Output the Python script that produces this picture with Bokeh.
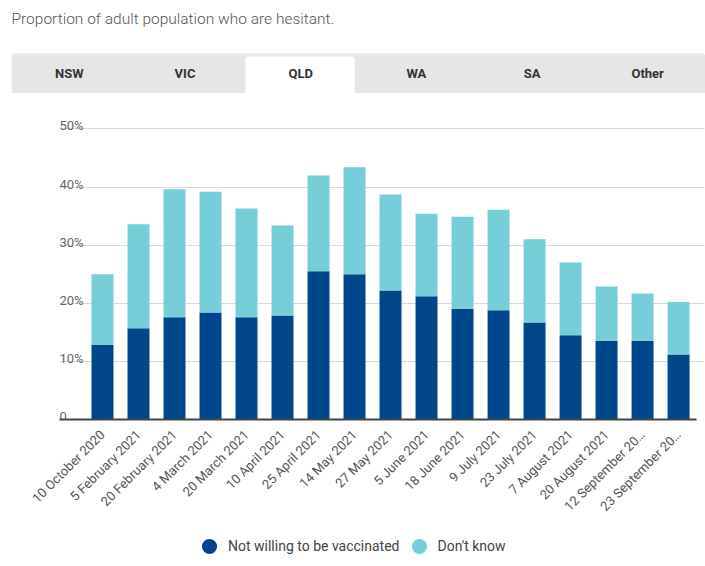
import math
from bokeh.plotting import figure
from bokeh.models import ColumnDataSource, Range1d, FixedTicker, Legend, LegendItem, Grid, Quad
from bokeh.embed import file_html
from bokeh.resources import INLINE
from bokeh.core.properties import value

# ---------------- data ----------------
TITLE = "Proportion of adult population who are hesitant."
TABS = ["NSW", "VIC", "QLD", "WA", "SA", "Other"]
ACTIVE_TAB = "QLD"

DATES = [
    "10 October 2020", "5 February 2021", "20 February 2021", "4 March 2021",
    "20 March 2021", "10 April 2021", "25 April 2021", "14 May 2021",
    "27 May 2021", "5 June 2021", "18 June 2021", "9 July 2021",
    "23 July 2021", "7 August 2021", "20 August 2021", "12 September 2021",
    "23 September 2021",
]
NOT_WILLING = [12.8, 15.7, 17.6, 18.4, 17.6, 17.9, 25.5, 25.0, 22.2, 21.2,
               19.0, 18.8, 16.7, 14.5, 13.5, 13.5, 11.2]
DONT_KNOW = [12.2, 17.9, 22.0, 20.8, 18.7, 15.5, 16.5, 18.4, 16.5, 14.2,
             15.9, 17.3, 14.3, 12.5, 9.4, 8.2, 9.0]
SERIES = ["Not willing to be vaccinated", "Don't know"]
COLORS = ["#00468B", "#76CED8"]
Y_TICKS = [0, 10, 20, 30, 40, 50]
Y_TICK_LABELS = ["0", "10%", "20%", "30%", "40%", "50%"]

FONT = "Roboto"
W = 705


def short(label, n=16):
    return label if len(label) <= n else label[:n - 1] + "\u2026"


HAS_RADIUS = "border_radius" in Quad.properties()


def radius(r):
    return {"border_radius": (r, r, 0, 0)} if HAS_RADIUS else {}


# ---------------- header (title + tabs) ----------------
HDR_H = 93
hdr = figure(width=W, height=HDR_H, x_range=Range1d(0, len(TABS)),
             y_range=Range1d(HDR_H, 0), output_backend="svg",
             toolbar_location=None, x_axis_type=None, y_axis_type=None,
             min_border_left=11, min_border_right=0, min_border_top=0,
             min_border_bottom=0, outline_line_color=None)
hdr.quad(left=[0], right=[len(TABS)], top=[53], bottom=[HDR_H],
         color="#e6e6e6", line_color=None, **radius(4))
ai = TABS.index(ACTIVE_TAB)
hdr.quad(left=[ai + 0.023], right=[ai + 0.968], top=[56], bottom=[HDR_H],
         color="#ffffff", line_color=None, **radius(3))
hdr.text(x=[i + 0.5 for i in range(len(TABS))], y=[72.5] * len(TABS), text=TABS,
         text_align="center", text_baseline="middle", text_font=value(FONT),
         text_font_style="bold", text_font_size="13px", text_color="#333333")
hdr.text(x=[0], y=[18.3], text=[TITLE], text_align="left",
         text_baseline="alphabetic",
         text_font=value("Roboto Light, Roboto"), text_font_size="15.5px",
         text_color="#555555")

# ---------------- main chart ----------------
n = len(DATES)
X_START, X_END = -1.194, n - 0.28
MAIN_H = 433
main = figure(width=W, height=MAIN_H, x_range=Range1d(X_START, X_END),
              y_range=Range1d(0, 53), output_backend="svg",
              toolbar_location=None, y_axis_type=None,
              min_border_left=59, min_border_right=1, min_border_top=18,
              min_border_bottom=107, outline_line_color=None)
main.xgrid.visible = False
main.add_layout(Grid(dimension=1, ticker=FixedTicker(ticks=Y_TICKS),
                     grid_line_color="#d9d9d9", grid_line_width=1))

src = ColumnDataSource(dict(x=list(range(n)), not_willing=NOT_WILLING,
                            dont_know=DONT_KNOW))
main.vbar_stack(["not_willing", "dont_know"], x="x", width=0.61,
                color=COLORS, line_color=None, source=src)

main.text(x=[X_START] * len(Y_TICKS), y=Y_TICKS, text=Y_TICK_LABELS,
          text_align="left", text_baseline="alphabetic", y_offset=-3,
          text_font=value(FONT), text_font_size="13px", text_color="#666666")

xa = main.xaxis[0]
xa.ticker = FixedTicker(ticks=list(range(n)))
xa.bounds = (X_START, n - 0.5)
xa.major_label_overrides = {i: short(d) for i, d in enumerate(DATES)}
xa.major_label_orientation = math.pi / 4
xa.axis_line_color = "#444444"
xa.axis_line_width = 2
xa.major_tick_line_color = None
xa.minor_tick_line_color = None
xa.major_label_standoff = 7
xa.major_label_text_font = FONT
xa.major_label_text_font_size = "13px"
xa.major_label_text_color = "#555555"

# ---------------- legend ----------------
LEG_H = 40
leg = figure(width=W, height=LEG_H, x_range=Range1d(0, 1), y_range=Range1d(0, 1),
             output_backend="svg", toolbar_location=None, x_axis_type=None,
             y_axis_type=None, min_border_left=0, min_border_right=0,
             min_border_top=0, min_border_bottom=0, outline_line_color=None)
items = []
for name, col in zip(SERIES, COLORS):
    proxy = ColumnDataSource(dict(x=[float("nan")], y=[float("nan")]))
    r = leg.scatter(x="x", y="y", source=proxy, marker="circle", size=15,
                    color=col, line_color=None)
    items.append(LegendItem(label=name, renderers=[r]))
legend = Legend(items=items, orientation="horizontal", location=(190, 1),
                glyph_width=38, glyph_height=38, label_standoff=0, spacing=0,
                padding=0, margin=0, border_line_color=None,
                background_fill_alpha=0, label_text_font=FONT,
                label_text_font_size="14px", label_text_color="#444444")
leg.add_layout(legend, "center")

open("out.html", "w").write(file_html([hdr, main, leg], INLINE, title="hesitancy"))
